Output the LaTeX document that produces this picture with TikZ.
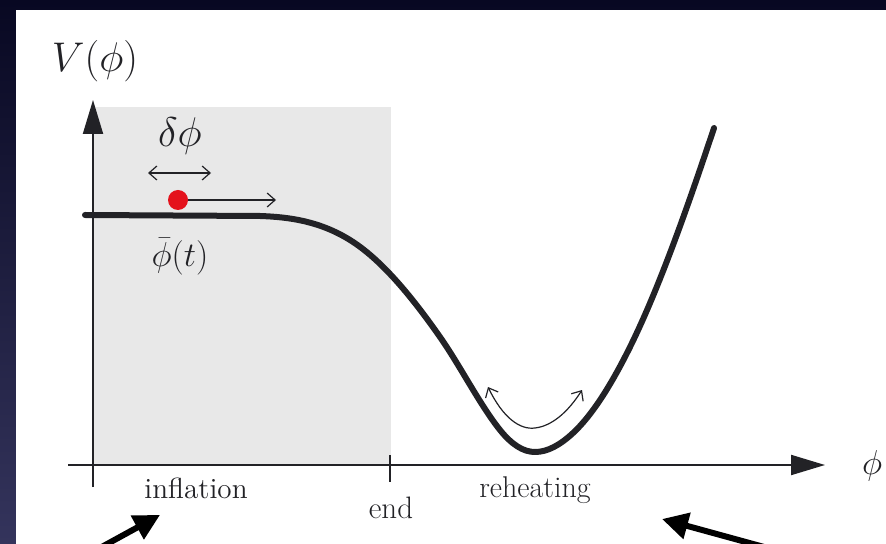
\documentclass[tikz,border=0pt]{standalone}
\usetikzlibrary{arrows.meta}
\definecolor{bgtop}{RGB}{8,8,34}
\definecolor{bgbot}{RGB}{52,52,92}
\definecolor{panelgray}{RGB}{232,232,232}
\definecolor{ink}{RGB}{34,34,38}
\definecolor{dotred}{RGB}{228,18,28}
\tikzset{
  axisline/.style={draw=ink,line width=1pt,-{Triangle[length=17pt,width=10pt]}},
  potential/.style={draw=ink,line width=3pt,line cap=round,line join=round},
  thinarrow/.style={draw=ink,line width=0.6pt,-{Straight Barb[length=4pt,width=7pt]}},
  dblarrow/.style={draw=ink,line width=0.6pt,{Straight Barb[length=4pt,width=7pt]}-{Straight Barb[length=4pt,width=7pt]}},
  bigarrow/.style={draw=black,line width=3pt,-{Triangle[length=13pt,width=13pt]}},
  mathlbl/.style={text=ink,inner sep=0pt,anchor=base,font=\fontsize{20}{24}\selectfont},
  txtlbl/.style={text=ink,inner sep=0pt,anchor=base,font=\fontsize{14.6}{17}\selectfont},
}
\begin{document}
\begin{tikzpicture}[x=0.5pt,y=-0.5pt]
\useasboundingbox (0,0) rectangle (886,544);
\clip (0,0) rectangle (886,544);
% slide background and panel
\shade[top color=bgtop,bottom color=bgbot] (0,0) rectangle (886,544);
\fill[white] (16,10) rectangle (886,544);
% inflation region
\fill[panelgray] (93,107) rectangle (391,465);
% axes
\coordinate (yb) at (93,487);
\coordinate (yt) at (93,100);
\coordinate (xl) at (68,465);
\coordinate (xr) at (825,465);
\coordinate (tk1) at (390,455);
\coordinate (tk2) at (390,482);
\draw[axisline] (yb) -- (yt);
\draw[axisline] (xl) -- (xr);
\draw[draw=ink,line width=1pt] (tk1) -- (tk2);
% potential curve
\draw[potential] (85,215) -- (260,216)
  .. controls (290,217) and (320,221.4) .. (350,240)
  .. controls (380,258.6) and (410,294.1) .. (440,337)
  .. controls (460,365.6) and (480,405) .. (500,430)
  .. controls (511.7,444.6) and (523.3,452) .. (535,452)
  .. controls (547.7,452) and (560.3,444.8) .. (573,433)
  .. controls (591,416.3) and (609,388.5) .. (627,353)
  .. controls (656,296) and (685,215) .. (714,128);
% oscillation arrow at minimum
\coordinate (oa) at (488,387);
\coordinate (ob) at (582,390);
\draw[dblarrow] (oa) .. controls (503,418) and (520,430) .. (535,428)
  .. controls (552,426) and (568,412) .. (ob);
% field particle
\node[circle,fill=dotred,minimum size=10pt,inner sep=0pt] (dot) at (178,200) {};
\coordinate (dotend) at (276,200);
\draw[thinarrow] (dot.east) -- (dotend);
\coordinate (dl) at (148,173);
\coordinate (dr) at (211,173);
\draw[dblarrow] (dl) -- (dr);
% labels
\node[mathlbl,font=\fontsize{19.5}{24}\selectfont] (vlabel) at (95,72) {$V(\phi)$};
\node[mathlbl] (dlabel) at (180,147) {$\delta\phi$};
\node[mathlbl,font=\fontsize{18.5}{22}\selectfont] (pblabel) at (180,267) {$\bar\phi(t)$};
\node[mathlbl,font=\fontsize{18}{22}\selectfont] (xlabel) at (872,474) {$\phi$};
\node[txtlbl] (inflation) at (196,498) {inflation};
\node[txtlbl,font=\fontsize{15.5}{18}\selectfont] (endlbl) at (391,518) {end};
\node[txtlbl,font=\fontsize{15}{18}\selectfont] (reheat) at (535,497) {reheating};
% slide annotation arrows
\coordinate (la) at (98,549);
\coordinate (lb) at (160,515);
\coordinate (ra) at (775,550);
\coordinate (rb) at (662,519);
\draw[bigarrow] (la) -- (lb);
\draw[bigarrow] (ra) -- (rb);
\end{tikzpicture}
\end{document}
